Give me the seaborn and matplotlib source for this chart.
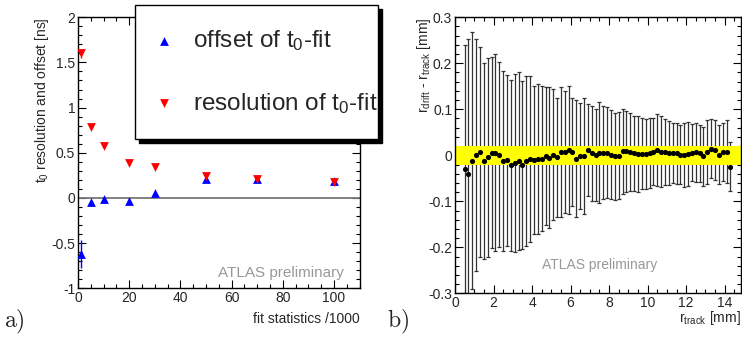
import numpy as np
import pandas as pd
import matplotlib
matplotlib.use("Agg")
import matplotlib.pyplot as plt
import seaborn as sns
from matplotlib.ticker import MultipleLocator, FormatStrFormatter

# panel a) t0 fit vs statistics
fit_stats = [1, 5, 10, 20, 30, 50, 70, 100]
offset = [-0.62, -0.04, -0.01, -0.03, 0.06, 0.21, 0.21, 0.19]
offset_err = [0.155, 0.0, 0.0, 0.0, 0.0, 0.01, 0.0, 0.0]
resolution = [1.60, 0.79, 0.57, 0.39, 0.345, 0.245, 0.215, 0.18]
resolution_err = [0.05, 0.0, 0.0, 0.0, 0.0, 0.0, 0.0, 0.0]

# panel b) residuals vs track radius
r_track = [0.5, 0.7, 0.9, 1.1, 1.3, 1.5, 1.7, 1.9, 2.1, 2.3,
           2.5, 2.7, 2.9, 3.1, 3.3, 3.5, 3.7, 3.9, 4.1, 4.3,
           4.5, 4.7, 4.9, 5.1, 5.3, 5.5, 5.7, 5.9, 6.1, 6.3,
           6.5, 6.7, 6.9, 7.1, 7.3, 7.5, 7.7, 7.9, 8.1, 8.3,
           8.5, 8.7, 8.9, 9.1, 9.3, 9.5, 9.7, 9.9, 10.1, 10.3,
           10.5, 10.7, 10.9, 11.1, 11.3, 11.5, 11.7, 11.9, 12.1, 12.3,
           12.5, 12.7, 12.9, 13.1, 13.3, 13.5, 13.7, 13.9, 14.1, 14.3]
residual = [-0.030, -0.040, -0.012, 0.001, 0.007, -0.012, -0.004, 0.006, 0.006, 0.001,
            -0.012, -0.011, -0.022, -0.017, -0.012, -0.021, -0.013, -0.008, -0.011, -0.008,
            -0.007, -0.002, -0.005, 0.001, -0.004, 0.007, 0.007, 0.012, 0.007, -0.007,
            -0.001, -0.002, 0.011, 0.004, 0.001, 0.006, 0.006, 0.006, 0.001, -0.002,
            -0.001, 0.009, 0.009, 0.007, 0.004, 0.003, 0.003, 0.003, 0.005, 0.008,
            0.012, 0.008, 0.007, 0.005, 0.005, 0.004, 0.001, 0.001, 0.003, 0.006,
            0.007, 0.004, -0.002, 0.007, 0.014, 0.011, 0.001, 0.007, 0.008, -0.025]
residual_err = [0.270, 0.292, 0.279, 0.252, 0.228, 0.213, 0.216, 0.208, 0.214, 0.201,
                0.195, 0.186, 0.185, 0.194, 0.193, 0.182, 0.185, 0.180, 0.161, 0.162,
                0.157, 0.150, 0.153, 0.142, 0.129, 0.142, 0.133, 0.139, 0.117, 0.127,
                0.115, 0.126, 0.100, 0.104, 0.100, 0.109, 0.102, 0.099, 0.097, 0.095,
                0.095, 0.092, 0.088, 0.085, 0.082, 0.082, 0.077, 0.076, 0.077, 0.073,
                0.078, 0.077, 0.072, 0.070, 0.065, 0.066, 0.064, 0.070, 0.069, 0.062,
                0.064, 0.061, 0.064, 0.069, 0.064, 0.065, 0.064, 0.063, 0.069, 0.053]
band_half = 0.02

sns.set_theme(style="ticks")
plt.rcParams["font.family"] = ["Liberation Sans", "DejaVu Sans"]
plt.rcParams["mathtext.fontset"] = "custom"
plt.rcParams["mathtext.rm"] = "Liberation Sans"
plt.rcParams["mathtext.it"] = "Liberation Sans:italic"
plt.rcParams["axes.unicode_minus"] = False

fig = plt.figure(figsize=(7.42, 3.38), dpi=100)
ax1 = fig.add_axes([0.1051, 0.147, 0.3796, 0.802])
ax2 = fig.add_axes([0.6132, 0.132, 0.3855, 0.817])

df_a = pd.DataFrame({"stat": fit_stats, "offset": offset, "oerr": offset_err,
                     "res": resolution, "rerr": resolution_err})

ax1.axhline(0, color="#777777", lw=1.3, zorder=1)
ax1.errorbar(df_a["stat"], df_a["offset"], yerr=df_a["oerr"], fmt="none",
             ecolor="blue", elinewidth=1, zorder=2)
ax1.errorbar(df_a["stat"], df_a["res"], yerr=df_a["rerr"], fmt="none",
             ecolor="red", elinewidth=1, zorder=2)
sns.scatterplot(data=df_a, x="stat", y="offset", marker="^", color="blue", s=40,
                linewidth=0, ax=ax1, label="offset of t$_0$-fit", zorder=3)
sns.scatterplot(data=df_a, x="stat", y="res", marker="v", color="red", s=40,
                linewidth=0, ax=ax1, label="resolution of t$_0$-fit", zorder=4)

ax1.set_xlim(0, 110)
ax1.set_ylim(-1, 2)
ax1.xaxis.set_major_locator(MultipleLocator(20))
ax1.xaxis.set_minor_locator(MultipleLocator(5))
ax1.yaxis.set_major_locator(MultipleLocator(0.5))
ax1.yaxis.set_minor_locator(MultipleLocator(0.1))
ax1.yaxis.set_major_formatter(FormatStrFormatter("%g"))
ax1.set_xlabel("")
ax1.set_ylabel("")
ax1.text(1.0, -0.112, "fit statistics /1000", transform=ax1.transAxes,
         ha="right", va="center", fontsize=10)
ax1.text(-0.128, 1.0, "t$_0$ resolution and offset [ns]", transform=ax1.transAxes,
         rotation=90, ha="center", va="top", fontsize=10)
ax1.text(0.496, 0.056, "ATLAS preliminary", transform=ax1.transAxes,
         ha="left", va="center", fontsize=11, color="#999999")

leg = ax1.legend(loc="upper left", bbox_to_anchor=(0.182, 0.595, 0.327, 0.39),
                 bbox_transform=fig.transFigure, mode="expand", borderaxespad=0,
                 fontsize=17.5, frameon=True, fancybox=False, borderpad=0.95,
                 labelspacing=1.55, handlelength=0.5, handletextpad=0.95,
                 markerscale=1.0,
                 shadow={"ox": 3, "oy": -3, "color": "black", "alpha": 1})
leg.get_frame().set_edgecolor("black")
leg.get_frame().set_linewidth(1.0)
leg.get_frame().set_facecolor("white")

df_b = pd.DataFrame({"r": r_track, "res": residual, "err": residual_err})
ax2.errorbar(df_b["r"], df_b["res"], yerr=df_b["err"], fmt="none", ecolor="#333333",
             elinewidth=0.9, capsize=1.5, capthick=0.9, zorder=1)
ax2.axhspan(-band_half, band_half, color="#ffff00", lw=0, zorder=2)
sns.scatterplot(data=df_b, x="r", y="res", color="black", s=14, linewidth=0,
                ax=ax2, zorder=3)
ax2.set_xlim(0, 14.85)
ax2.set_ylim(-0.3, 0.3)
ax2.xaxis.set_major_locator(MultipleLocator(2))
ax2.xaxis.set_minor_locator(MultipleLocator(0.5))
ax2.yaxis.set_major_locator(MultipleLocator(0.1))
ax2.yaxis.set_minor_locator(MultipleLocator(0.02))
ax2.yaxis.set_major_formatter(FormatStrFormatter("%g"))
ax2.set_xlabel("")
ax2.set_ylabel("")
ax2.text(1.0, -0.09, r"r$_{\mathrm{track}}$ [mm]", transform=ax2.transAxes,
         ha="right", va="center", fontsize=10)
ax2.text(-0.11, 1.0, r"r$_{\mathrm{drift}}$ - r$_{\mathrm{track}}$ [mm]",
         transform=ax2.transAxes, rotation=90, ha="center", va="top", fontsize=10)
ax2.text(0.303, 0.1025, "ATLAS preliminary", transform=ax2.transAxes,
         ha="left", va="center", fontsize=10, color="#999999")

for ax in (ax1, ax2):
    ax.tick_params(which="both", direction="in", top=True, right=True,
                   labelsize=10, pad=2, color="black")
    ax.tick_params(which="major", length=6, width=0.8)
    ax.tick_params(which="minor", length=3, width=0.8)
    for s in ax.spines.values():
        s.set_color("black")
        s.set_linewidth(1.0)

fig.text(0.005, 0.047, r"$\mathrm{a)}$", fontsize=17, math_fontfamily="cm",
         ha="left", va="center")
fig.text(0.522, 0.047, r"$\mathrm{b)}$", fontsize=17, math_fontfamily="cm",
         ha="left", va="center")

fig.savefig("out.png", dpi=100)
